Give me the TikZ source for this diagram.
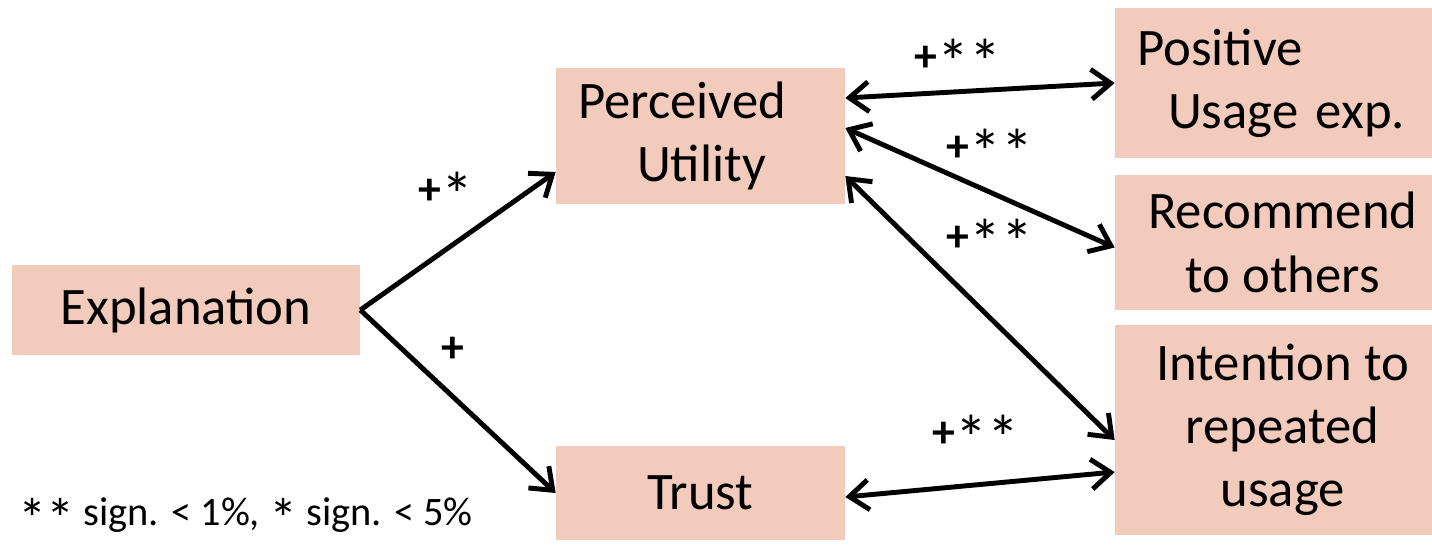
\documentclass[tikz,border=0pt]{standalone}
\usepackage{fontspec}
\usepackage{graphicx}
\setmainfont{Carlito}
\usetikzlibrary{arrows.meta,calc}
\definecolor{boxfill}{RGB}{242,203,189}
\newcommand{\sigstar}{\raisebox{-0.3em}{\scalebox{1.4}{*}}}
\tikzset{
  box/.style={fill=boxfill, inner sep=0pt, align=center,
    font=\fontsize{30}{36}\selectfont},
  leftbox/.style={box, align=left, inner xsep=0.44cm},
  link/.style={line width=2.8pt, -{Straight Barb[length=11pt,width=17pt]}},
  both/.style={link, {Straight Barb[length=11pt,width=17pt]}-{Straight Barb[length=11pt,width=17pt]}},
  sig/.style={font=\fontsize{26}{30}\selectfont}
}
\begin{document}
\begin{tikzpicture}[x=0.02cm,y=-0.02cm]
  \useasboundingbox (0,0) rectangle (1432,548);
  \node[box, minimum width=348*0.02cm, minimum height=90*0.02cm] (expl) at (186,310) {Explanation};
  \node[leftbox, text width=4.9cm, minimum height=136*0.02cm] (util) at (700.5,136) {Perceived\\ \hspace*{1.18cm}Utility};
  \node[box, minimum width=289*0.02cm, minimum height=94*0.02cm] (trust) at (700.5,493) {Trust};
  \node[leftbox, text width=5.46cm, minimum height=150*0.02cm] (pos) at (1273.5,83) {Positive\\ \hspace*{0.62cm}Usage exp.};
  \node[box, minimum width=317*0.02cm, minimum height=135*0.02cm] (rec) at (1273.5,242.5) {\hspace*{0.35em}Recommend\\ \hspace*{0.35em}to others};
  \node[box, minimum width=317*0.02cm, minimum height=210*0.02cm] (int) at (1273.5,430) {\hspace*{0.35em}Intention to\\ \hspace*{0.35em}repeated\\ \hspace*{0.35em}usage};

  \draw[link] (expl.east) -- ($(util.west)+(0,36)$);
  \draw[link] (expl.east) -- (trust.west);
  \draw[both] ($(util.east)+(0,-38)$) -- (pos.west);
  \draw[both] ($(util.east)+(0,-8)$) -- ($(rec.west)+(0,5)$);
  \draw[both] ($(util.east)+(0,40)$) -- ($(int.west)+(0,10)$);
  \draw[both] ($(trust.east)+(0,4)$) -- ($(int.west)+(0,42)$);

  \node[sig] (s1) at (446,195) {\textbf{+}\sigstar};
  \node[sig] (s2) at (453,350) {\textbf{+}};
  \node[sig] (s3) at (958,62) {\textbf{+}\sigstar\sigstar};
  \node[sig] (s4) at (990,152) {\textbf{+}\sigstar\sigstar};
  \node[sig] (s5) at (990,242) {\textbf{+}\sigstar\sigstar};
  \node[sig] (s6) at (976,438) {\textbf{+}\sigstar\sigstar};

  \node[anchor=west, font=\fontsize{23}{27}\selectfont] (note) at (12,518) {\sigstar\sigstar{} sign. < 1\%, \sigstar{} sign. < 5\%};
\end{tikzpicture}
\end{document}
